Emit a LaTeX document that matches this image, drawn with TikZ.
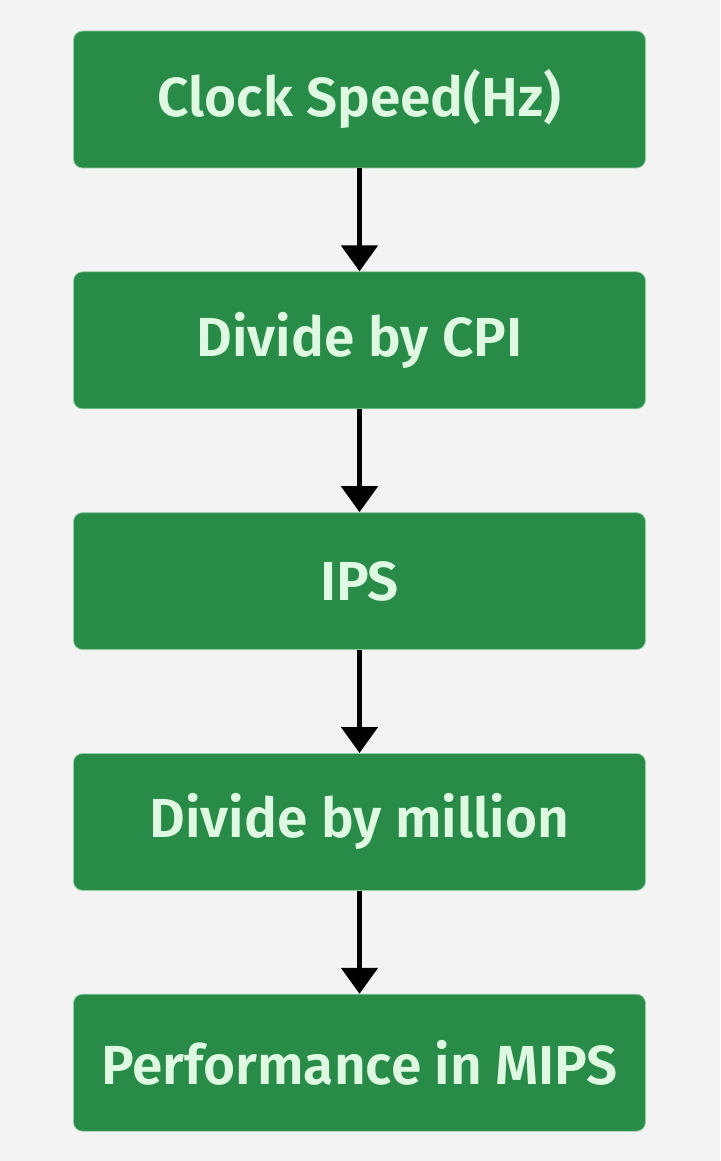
\documentclass[tikz,border=0pt]{standalone}
\usepackage{fontspec}
\setmainfont{Fira Sans}[BoldFont={Fira Sans SemiBold}]
\usetikzlibrary{positioning,arrows.meta}

\definecolor{leafgreen}{RGB}{40,140,72}
\definecolor{mint}{RGB}{222,248,226}
\definecolor{paper}{RGB}{242,243,242}

\tikzstyle{stage}=[fill=leafgreen, draw=leafgreen!40!mint, line width=0.8pt, rounded corners=9pt,
	minimum width=572pt, minimum height=137pt, inner sep=0pt,
	text=mint, font=\fontsize{55}{55}\selectfont\bfseries]
\tikzstyle{flow}=[black, line width=5pt, -{Triangle[width=36pt,length=26pt]}]

\begin{document}
\begin{tikzpicture}[x=1pt, y=-1pt, node distance=103pt]
\fill[paper] (0,0) rectangle (720,1161);
\useasboundingbox (0,0) rectangle (720,1161);

\node[stage] (clock) at (359.5,99.5) {Clock Speed(Hz)};
\node[stage, below=of clock] (cpi) {Divide by CPI};
\node[stage, below=of cpi] (ips) {IPS};
\node[stage, below=of ips] (million) {Divide by million};
\node[stage, below=of million] (mips) {Performance in MIPS};

\foreach \a/\b in {clock/cpi, cpi/ips, ips/million, million/mips} {
	\draw[flow] (\a) -- (\b);
}
\end{tikzpicture}
\end{document}
